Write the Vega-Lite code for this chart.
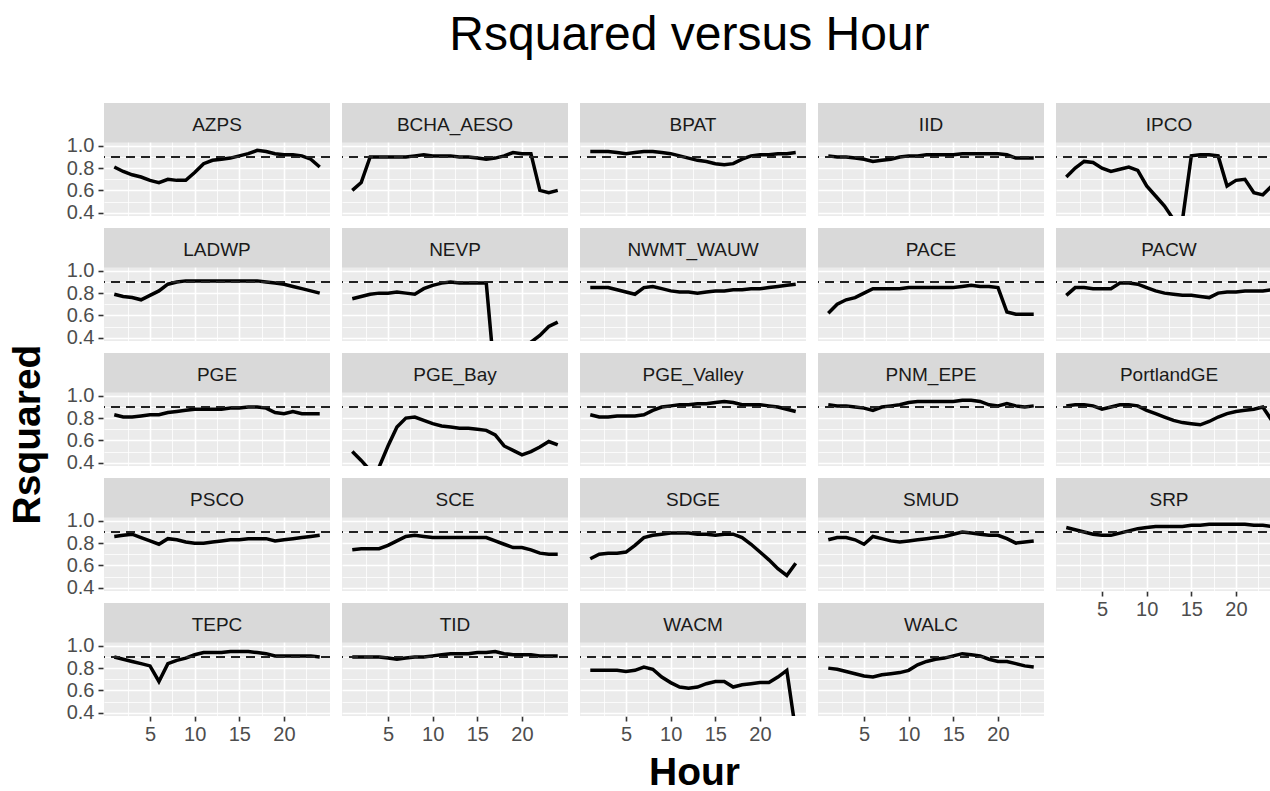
{
"$schema": "https://vega.github.io/schema/vega-lite/v6.json",
"background": "white",
"padding": {"left": 8, "top": 12, "right": 0, "bottom": 0},
"title": {"text": "Rsquared versus Hour", "fontSize": 48, "font": "Liberation Sans", "fontWeight": "normal", "color": "#000000", "anchor": "middle", "offset": 43, "dx": 44},
"config": {"font": "Liberation Sans", "view": {"stroke": null}},
"data": {"values": [
{"site":"AZPS","hour":1,"r2":0.81},{"site":"AZPS","hour":2,"r2":0.77},{"site":"AZPS","hour":3,"r2":0.74},{"site":"AZPS","hour":4,"r2":0.72},{"site":"AZPS","hour":5,"r2":0.69},{"site":"AZPS","hour":6,"r2":0.67},{"site":"AZPS","hour":7,"r2":0.70},{"site":"AZPS","hour":8,"r2":0.69},{"site":"AZPS","hour":9,"r2":0.69},{"site":"AZPS","hour":10,"r2":0.76},{"site":"AZPS","hour":11,"r2":0.84},{"site":"AZPS","hour":12,"r2":0.87},{"site":"AZPS","hour":13,"r2":0.88},{"site":"AZPS","hour":14,"r2":0.89},{"site":"AZPS","hour":15,"r2":0.91},{"site":"AZPS","hour":16,"r2":0.93},{"site":"AZPS","hour":17,"r2":0.96},{"site":"AZPS","hour":18,"r2":0.95},{"site":"AZPS","hour":19,"r2":0.93},{"site":"AZPS","hour":20,"r2":0.92},{"site":"AZPS","hour":21,"r2":0.92},{"site":"AZPS","hour":22,"r2":0.91},{"site":"AZPS","hour":23,"r2":0.88},{"site":"AZPS","hour":24,"r2":0.81},
{"site":"BCHA_AESO","hour":1,"r2":0.60},{"site":"BCHA_AESO","hour":2,"r2":0.67},{"site":"BCHA_AESO","hour":3,"r2":0.90},{"site":"BCHA_AESO","hour":4,"r2":0.90},{"site":"BCHA_AESO","hour":5,"r2":0.90},{"site":"BCHA_AESO","hour":6,"r2":0.90},{"site":"BCHA_AESO","hour":7,"r2":0.90},{"site":"BCHA_AESO","hour":8,"r2":0.91},{"site":"BCHA_AESO","hour":9,"r2":0.92},{"site":"BCHA_AESO","hour":10,"r2":0.91},{"site":"BCHA_AESO","hour":11,"r2":0.91},{"site":"BCHA_AESO","hour":12,"r2":0.91},{"site":"BCHA_AESO","hour":13,"r2":0.90},{"site":"BCHA_AESO","hour":14,"r2":0.90},{"site":"BCHA_AESO","hour":15,"r2":0.89},{"site":"BCHA_AESO","hour":16,"r2":0.88},{"site":"BCHA_AESO","hour":17,"r2":0.89},{"site":"BCHA_AESO","hour":18,"r2":0.91},{"site":"BCHA_AESO","hour":19,"r2":0.94},{"site":"BCHA_AESO","hour":20,"r2":0.93},{"site":"BCHA_AESO","hour":21,"r2":0.93},{"site":"BCHA_AESO","hour":22,"r2":0.60},{"site":"BCHA_AESO","hour":23,"r2":0.58},{"site":"BCHA_AESO","hour":24,"r2":0.60},
{"site":"BPAT","hour":1,"r2":0.95},{"site":"BPAT","hour":2,"r2":0.95},{"site":"BPAT","hour":3,"r2":0.95},{"site":"BPAT","hour":4,"r2":0.94},{"site":"BPAT","hour":5,"r2":0.93},{"site":"BPAT","hour":6,"r2":0.94},{"site":"BPAT","hour":7,"r2":0.95},{"site":"BPAT","hour":8,"r2":0.95},{"site":"BPAT","hour":9,"r2":0.94},{"site":"BPAT","hour":10,"r2":0.93},{"site":"BPAT","hour":11,"r2":0.91},{"site":"BPAT","hour":12,"r2":0.89},{"site":"BPAT","hour":13,"r2":0.87},{"site":"BPAT","hour":14,"r2":0.86},{"site":"BPAT","hour":15,"r2":0.84},{"site":"BPAT","hour":16,"r2":0.83},{"site":"BPAT","hour":17,"r2":0.84},{"site":"BPAT","hour":18,"r2":0.88},{"site":"BPAT","hour":19,"r2":0.91},{"site":"BPAT","hour":20,"r2":0.92},{"site":"BPAT","hour":21,"r2":0.92},{"site":"BPAT","hour":22,"r2":0.93},{"site":"BPAT","hour":23,"r2":0.93},{"site":"BPAT","hour":24,"r2":0.94},
{"site":"IID","hour":1,"r2":0.91},{"site":"IID","hour":2,"r2":0.90},{"site":"IID","hour":3,"r2":0.90},{"site":"IID","hour":4,"r2":0.89},{"site":"IID","hour":5,"r2":0.88},{"site":"IID","hour":6,"r2":0.86},{"site":"IID","hour":7,"r2":0.87},{"site":"IID","hour":8,"r2":0.88},{"site":"IID","hour":9,"r2":0.90},{"site":"IID","hour":10,"r2":0.91},{"site":"IID","hour":11,"r2":0.91},{"site":"IID","hour":12,"r2":0.92},{"site":"IID","hour":13,"r2":0.92},{"site":"IID","hour":14,"r2":0.92},{"site":"IID","hour":15,"r2":0.92},{"site":"IID","hour":16,"r2":0.93},{"site":"IID","hour":17,"r2":0.93},{"site":"IID","hour":18,"r2":0.93},{"site":"IID","hour":19,"r2":0.93},{"site":"IID","hour":20,"r2":0.93},{"site":"IID","hour":21,"r2":0.92},{"site":"IID","hour":22,"r2":0.89},{"site":"IID","hour":23,"r2":0.89},{"site":"IID","hour":24,"r2":0.89},
{"site":"IPCO","hour":1,"r2":0.72},{"site":"IPCO","hour":2,"r2":0.80},{"site":"IPCO","hour":3,"r2":0.86},{"site":"IPCO","hour":4,"r2":0.85},{"site":"IPCO","hour":5,"r2":0.80},{"site":"IPCO","hour":6,"r2":0.77},{"site":"IPCO","hour":7,"r2":0.79},{"site":"IPCO","hour":8,"r2":0.81},{"site":"IPCO","hour":9,"r2":0.78},{"site":"IPCO","hour":10,"r2":0.64},{"site":"IPCO","hour":11,"r2":0.55},{"site":"IPCO","hour":12,"r2":0.46},{"site":"IPCO","hour":13,"r2":0.34},{"site":"IPCO","hour":14,"r2":0.33},{"site":"IPCO","hour":15,"r2":0.91},{"site":"IPCO","hour":16,"r2":0.92},{"site":"IPCO","hour":17,"r2":0.92},{"site":"IPCO","hour":18,"r2":0.91},{"site":"IPCO","hour":19,"r2":0.64},{"site":"IPCO","hour":20,"r2":0.69},{"site":"IPCO","hour":21,"r2":0.70},{"site":"IPCO","hour":22,"r2":0.58},{"site":"IPCO","hour":23,"r2":0.56},{"site":"IPCO","hour":24,"r2":0.64},
{"site":"LADWP","hour":1,"r2":0.79},{"site":"LADWP","hour":2,"r2":0.77},{"site":"LADWP","hour":3,"r2":0.76},{"site":"LADWP","hour":4,"r2":0.74},{"site":"LADWP","hour":5,"r2":0.78},{"site":"LADWP","hour":6,"r2":0.82},{"site":"LADWP","hour":7,"r2":0.88},{"site":"LADWP","hour":8,"r2":0.90},{"site":"LADWP","hour":9,"r2":0.91},{"site":"LADWP","hour":10,"r2":0.91},{"site":"LADWP","hour":11,"r2":0.91},{"site":"LADWP","hour":12,"r2":0.91},{"site":"LADWP","hour":13,"r2":0.91},{"site":"LADWP","hour":14,"r2":0.91},{"site":"LADWP","hour":15,"r2":0.91},{"site":"LADWP","hour":16,"r2":0.91},{"site":"LADWP","hour":17,"r2":0.91},{"site":"LADWP","hour":18,"r2":0.90},{"site":"LADWP","hour":19,"r2":0.89},{"site":"LADWP","hour":20,"r2":0.88},{"site":"LADWP","hour":21,"r2":0.86},{"site":"LADWP","hour":22,"r2":0.84},{"site":"LADWP","hour":23,"r2":0.82},{"site":"LADWP","hour":24,"r2":0.80},
{"site":"NEVP","hour":1,"r2":0.75},{"site":"NEVP","hour":2,"r2":0.77},{"site":"NEVP","hour":3,"r2":0.79},{"site":"NEVP","hour":4,"r2":0.80},{"site":"NEVP","hour":5,"r2":0.80},{"site":"NEVP","hour":6,"r2":0.81},{"site":"NEVP","hour":7,"r2":0.80},{"site":"NEVP","hour":8,"r2":0.79},{"site":"NEVP","hour":9,"r2":0.84},{"site":"NEVP","hour":10,"r2":0.87},{"site":"NEVP","hour":11,"r2":0.89},{"site":"NEVP","hour":12,"r2":0.90},{"site":"NEVP","hour":13,"r2":0.89},{"site":"NEVP","hour":14,"r2":0.89},{"site":"NEVP","hour":15,"r2":0.89},{"site":"NEVP","hour":16,"r2":0.89},{"site":"NEVP","hour":17,"r2":0.00},{"site":"NEVP","hour":18,"r2":-0.20},{"site":"NEVP","hour":19,"r2":0.00},{"site":"NEVP","hour":20,"r2":0.20},{"site":"NEVP","hour":21,"r2":0.36},{"site":"NEVP","hour":22,"r2":0.42},{"site":"NEVP","hour":23,"r2":0.50},{"site":"NEVP","hour":24,"r2":0.54},
{"site":"NWMT_WAUW","hour":1,"r2":0.85},{"site":"NWMT_WAUW","hour":2,"r2":0.85},{"site":"NWMT_WAUW","hour":3,"r2":0.85},{"site":"NWMT_WAUW","hour":4,"r2":0.83},{"site":"NWMT_WAUW","hour":5,"r2":0.81},{"site":"NWMT_WAUW","hour":6,"r2":0.79},{"site":"NWMT_WAUW","hour":7,"r2":0.85},{"site":"NWMT_WAUW","hour":8,"r2":0.86},{"site":"NWMT_WAUW","hour":9,"r2":0.84},{"site":"NWMT_WAUW","hour":10,"r2":0.82},{"site":"NWMT_WAUW","hour":11,"r2":0.81},{"site":"NWMT_WAUW","hour":12,"r2":0.81},{"site":"NWMT_WAUW","hour":13,"r2":0.80},{"site":"NWMT_WAUW","hour":14,"r2":0.81},{"site":"NWMT_WAUW","hour":15,"r2":0.82},{"site":"NWMT_WAUW","hour":16,"r2":0.82},{"site":"NWMT_WAUW","hour":17,"r2":0.83},{"site":"NWMT_WAUW","hour":18,"r2":0.83},{"site":"NWMT_WAUW","hour":19,"r2":0.84},{"site":"NWMT_WAUW","hour":20,"r2":0.84},{"site":"NWMT_WAUW","hour":21,"r2":0.85},{"site":"NWMT_WAUW","hour":22,"r2":0.86},{"site":"NWMT_WAUW","hour":23,"r2":0.87},{"site":"NWMT_WAUW","hour":24,"r2":0.88},
{"site":"PACE","hour":1,"r2":0.62},{"site":"PACE","hour":2,"r2":0.70},{"site":"PACE","hour":3,"r2":0.74},{"site":"PACE","hour":4,"r2":0.76},{"site":"PACE","hour":5,"r2":0.80},{"site":"PACE","hour":6,"r2":0.84},{"site":"PACE","hour":7,"r2":0.84},{"site":"PACE","hour":8,"r2":0.84},{"site":"PACE","hour":9,"r2":0.84},{"site":"PACE","hour":10,"r2":0.85},{"site":"PACE","hour":11,"r2":0.85},{"site":"PACE","hour":12,"r2":0.85},{"site":"PACE","hour":13,"r2":0.85},{"site":"PACE","hour":14,"r2":0.85},{"site":"PACE","hour":15,"r2":0.85},{"site":"PACE","hour":16,"r2":0.86},{"site":"PACE","hour":17,"r2":0.87},{"site":"PACE","hour":18,"r2":0.86},{"site":"PACE","hour":19,"r2":0.86},{"site":"PACE","hour":20,"r2":0.85},{"site":"PACE","hour":21,"r2":0.63},{"site":"PACE","hour":22,"r2":0.61},{"site":"PACE","hour":23,"r2":0.61},{"site":"PACE","hour":24,"r2":0.61},
{"site":"PACW","hour":1,"r2":0.78},{"site":"PACW","hour":2,"r2":0.85},{"site":"PACW","hour":3,"r2":0.85},{"site":"PACW","hour":4,"r2":0.84},{"site":"PACW","hour":5,"r2":0.84},{"site":"PACW","hour":6,"r2":0.84},{"site":"PACW","hour":7,"r2":0.89},{"site":"PACW","hour":8,"r2":0.89},{"site":"PACW","hour":9,"r2":0.88},{"site":"PACW","hour":10,"r2":0.85},{"site":"PACW","hour":11,"r2":0.82},{"site":"PACW","hour":12,"r2":0.80},{"site":"PACW","hour":13,"r2":0.79},{"site":"PACW","hour":14,"r2":0.78},{"site":"PACW","hour":15,"r2":0.78},{"site":"PACW","hour":16,"r2":0.77},{"site":"PACW","hour":17,"r2":0.76},{"site":"PACW","hour":18,"r2":0.80},{"site":"PACW","hour":19,"r2":0.81},{"site":"PACW","hour":20,"r2":0.81},{"site":"PACW","hour":21,"r2":0.82},{"site":"PACW","hour":22,"r2":0.82},{"site":"PACW","hour":23,"r2":0.82},{"site":"PACW","hour":24,"r2":0.83},
{"site":"PGE","hour":1,"r2":0.83},{"site":"PGE","hour":2,"r2":0.81},{"site":"PGE","hour":3,"r2":0.81},{"site":"PGE","hour":4,"r2":0.82},{"site":"PGE","hour":5,"r2":0.83},{"site":"PGE","hour":6,"r2":0.83},{"site":"PGE","hour":7,"r2":0.85},{"site":"PGE","hour":8,"r2":0.86},{"site":"PGE","hour":9,"r2":0.87},{"site":"PGE","hour":10,"r2":0.88},{"site":"PGE","hour":11,"r2":0.88},{"site":"PGE","hour":12,"r2":0.88},{"site":"PGE","hour":13,"r2":0.88},{"site":"PGE","hour":14,"r2":0.89},{"site":"PGE","hour":15,"r2":0.89},{"site":"PGE","hour":16,"r2":0.90},{"site":"PGE","hour":17,"r2":0.90},{"site":"PGE","hour":18,"r2":0.89},{"site":"PGE","hour":19,"r2":0.85},{"site":"PGE","hour":20,"r2":0.84},{"site":"PGE","hour":21,"r2":0.86},{"site":"PGE","hour":22,"r2":0.84},{"site":"PGE","hour":23,"r2":0.84},{"site":"PGE","hour":24,"r2":0.84},
{"site":"PGE_Bay","hour":1,"r2":0.50},{"site":"PGE_Bay","hour":2,"r2":0.42},{"site":"PGE_Bay","hour":3,"r2":0.33},{"site":"PGE_Bay","hour":4,"r2":0.36},{"site":"PGE_Bay","hour":5,"r2":0.55},{"site":"PGE_Bay","hour":6,"r2":0.72},{"site":"PGE_Bay","hour":7,"r2":0.80},{"site":"PGE_Bay","hour":8,"r2":0.81},{"site":"PGE_Bay","hour":9,"r2":0.78},{"site":"PGE_Bay","hour":10,"r2":0.75},{"site":"PGE_Bay","hour":11,"r2":0.73},{"site":"PGE_Bay","hour":12,"r2":0.72},{"site":"PGE_Bay","hour":13,"r2":0.71},{"site":"PGE_Bay","hour":14,"r2":0.71},{"site":"PGE_Bay","hour":15,"r2":0.70},{"site":"PGE_Bay","hour":16,"r2":0.69},{"site":"PGE_Bay","hour":17,"r2":0.65},{"site":"PGE_Bay","hour":18,"r2":0.55},{"site":"PGE_Bay","hour":19,"r2":0.51},{"site":"PGE_Bay","hour":20,"r2":0.47},{"site":"PGE_Bay","hour":21,"r2":0.50},{"site":"PGE_Bay","hour":22,"r2":0.54},{"site":"PGE_Bay","hour":23,"r2":0.59},{"site":"PGE_Bay","hour":24,"r2":0.56},
{"site":"PGE_Valley","hour":1,"r2":0.83},{"site":"PGE_Valley","hour":2,"r2":0.81},{"site":"PGE_Valley","hour":3,"r2":0.81},{"site":"PGE_Valley","hour":4,"r2":0.82},{"site":"PGE_Valley","hour":5,"r2":0.82},{"site":"PGE_Valley","hour":6,"r2":0.82},{"site":"PGE_Valley","hour":7,"r2":0.83},{"site":"PGE_Valley","hour":8,"r2":0.87},{"site":"PGE_Valley","hour":9,"r2":0.90},{"site":"PGE_Valley","hour":10,"r2":0.91},{"site":"PGE_Valley","hour":11,"r2":0.92},{"site":"PGE_Valley","hour":12,"r2":0.92},{"site":"PGE_Valley","hour":13,"r2":0.93},{"site":"PGE_Valley","hour":14,"r2":0.93},{"site":"PGE_Valley","hour":15,"r2":0.94},{"site":"PGE_Valley","hour":16,"r2":0.95},{"site":"PGE_Valley","hour":17,"r2":0.94},{"site":"PGE_Valley","hour":18,"r2":0.92},{"site":"PGE_Valley","hour":19,"r2":0.92},{"site":"PGE_Valley","hour":20,"r2":0.92},{"site":"PGE_Valley","hour":21,"r2":0.91},{"site":"PGE_Valley","hour":22,"r2":0.90},{"site":"PGE_Valley","hour":23,"r2":0.88},{"site":"PGE_Valley","hour":24,"r2":0.86},
{"site":"PNM_EPE","hour":1,"r2":0.92},{"site":"PNM_EPE","hour":2,"r2":0.91},{"site":"PNM_EPE","hour":3,"r2":0.91},{"site":"PNM_EPE","hour":4,"r2":0.90},{"site":"PNM_EPE","hour":5,"r2":0.89},{"site":"PNM_EPE","hour":6,"r2":0.87},{"site":"PNM_EPE","hour":7,"r2":0.90},{"site":"PNM_EPE","hour":8,"r2":0.91},{"site":"PNM_EPE","hour":9,"r2":0.92},{"site":"PNM_EPE","hour":10,"r2":0.94},{"site":"PNM_EPE","hour":11,"r2":0.95},{"site":"PNM_EPE","hour":12,"r2":0.95},{"site":"PNM_EPE","hour":13,"r2":0.95},{"site":"PNM_EPE","hour":14,"r2":0.95},{"site":"PNM_EPE","hour":15,"r2":0.95},{"site":"PNM_EPE","hour":16,"r2":0.96},{"site":"PNM_EPE","hour":17,"r2":0.96},{"site":"PNM_EPE","hour":18,"r2":0.95},{"site":"PNM_EPE","hour":19,"r2":0.92},{"site":"PNM_EPE","hour":20,"r2":0.91},{"site":"PNM_EPE","hour":21,"r2":0.93},{"site":"PNM_EPE","hour":22,"r2":0.91},{"site":"PNM_EPE","hour":23,"r2":0.90},{"site":"PNM_EPE","hour":24,"r2":0.91},
{"site":"PortlandGE","hour":1,"r2":0.91},{"site":"PortlandGE","hour":2,"r2":0.92},{"site":"PortlandGE","hour":3,"r2":0.92},{"site":"PortlandGE","hour":4,"r2":0.91},{"site":"PortlandGE","hour":5,"r2":0.88},{"site":"PortlandGE","hour":6,"r2":0.90},{"site":"PortlandGE","hour":7,"r2":0.92},{"site":"PortlandGE","hour":8,"r2":0.92},{"site":"PortlandGE","hour":9,"r2":0.91},{"site":"PortlandGE","hour":10,"r2":0.87},{"site":"PortlandGE","hour":11,"r2":0.84},{"site":"PortlandGE","hour":12,"r2":0.81},{"site":"PortlandGE","hour":13,"r2":0.78},{"site":"PortlandGE","hour":14,"r2":0.76},{"site":"PortlandGE","hour":15,"r2":0.75},{"site":"PortlandGE","hour":16,"r2":0.74},{"site":"PortlandGE","hour":17,"r2":0.77},{"site":"PortlandGE","hour":18,"r2":0.81},{"site":"PortlandGE","hour":19,"r2":0.84},{"site":"PortlandGE","hour":20,"r2":0.86},{"site":"PortlandGE","hour":21,"r2":0.87},{"site":"PortlandGE","hour":22,"r2":0.88},{"site":"PortlandGE","hour":23,"r2":0.90},{"site":"PortlandGE","hour":24,"r2":0.78},
{"site":"PSCO","hour":1,"r2":0.86},{"site":"PSCO","hour":2,"r2":0.87},{"site":"PSCO","hour":3,"r2":0.88},{"site":"PSCO","hour":4,"r2":0.85},{"site":"PSCO","hour":5,"r2":0.82},{"site":"PSCO","hour":6,"r2":0.79},{"site":"PSCO","hour":7,"r2":0.84},{"site":"PSCO","hour":8,"r2":0.83},{"site":"PSCO","hour":9,"r2":0.81},{"site":"PSCO","hour":10,"r2":0.80},{"site":"PSCO","hour":11,"r2":0.80},{"site":"PSCO","hour":12,"r2":0.81},{"site":"PSCO","hour":13,"r2":0.82},{"site":"PSCO","hour":14,"r2":0.83},{"site":"PSCO","hour":15,"r2":0.83},{"site":"PSCO","hour":16,"r2":0.84},{"site":"PSCO","hour":17,"r2":0.84},{"site":"PSCO","hour":18,"r2":0.84},{"site":"PSCO","hour":19,"r2":0.82},{"site":"PSCO","hour":20,"r2":0.83},{"site":"PSCO","hour":21,"r2":0.84},{"site":"PSCO","hour":22,"r2":0.85},{"site":"PSCO","hour":23,"r2":0.86},{"site":"PSCO","hour":24,"r2":0.87},
{"site":"SCE","hour":1,"r2":0.74},{"site":"SCE","hour":2,"r2":0.75},{"site":"SCE","hour":3,"r2":0.75},{"site":"SCE","hour":4,"r2":0.75},{"site":"SCE","hour":5,"r2":0.78},{"site":"SCE","hour":6,"r2":0.82},{"site":"SCE","hour":7,"r2":0.86},{"site":"SCE","hour":8,"r2":0.87},{"site":"SCE","hour":9,"r2":0.86},{"site":"SCE","hour":10,"r2":0.85},{"site":"SCE","hour":11,"r2":0.85},{"site":"SCE","hour":12,"r2":0.85},{"site":"SCE","hour":13,"r2":0.85},{"site":"SCE","hour":14,"r2":0.85},{"site":"SCE","hour":15,"r2":0.85},{"site":"SCE","hour":16,"r2":0.85},{"site":"SCE","hour":17,"r2":0.82},{"site":"SCE","hour":18,"r2":0.79},{"site":"SCE","hour":19,"r2":0.76},{"site":"SCE","hour":20,"r2":0.76},{"site":"SCE","hour":21,"r2":0.74},{"site":"SCE","hour":22,"r2":0.71},{"site":"SCE","hour":23,"r2":0.70},{"site":"SCE","hour":24,"r2":0.70},
{"site":"SDGE","hour":1,"r2":0.66},{"site":"SDGE","hour":2,"r2":0.70},{"site":"SDGE","hour":3,"r2":0.71},{"site":"SDGE","hour":4,"r2":0.71},{"site":"SDGE","hour":5,"r2":0.72},{"site":"SDGE","hour":6,"r2":0.78},{"site":"SDGE","hour":7,"r2":0.85},{"site":"SDGE","hour":8,"r2":0.87},{"site":"SDGE","hour":9,"r2":0.88},{"site":"SDGE","hour":10,"r2":0.89},{"site":"SDGE","hour":11,"r2":0.89},{"site":"SDGE","hour":12,"r2":0.89},{"site":"SDGE","hour":13,"r2":0.88},{"site":"SDGE","hour":14,"r2":0.88},{"site":"SDGE","hour":15,"r2":0.87},{"site":"SDGE","hour":16,"r2":0.88},{"site":"SDGE","hour":17,"r2":0.88},{"site":"SDGE","hour":18,"r2":0.85},{"site":"SDGE","hour":19,"r2":0.79},{"site":"SDGE","hour":20,"r2":0.72},{"site":"SDGE","hour":21,"r2":0.65},{"site":"SDGE","hour":22,"r2":0.57},{"site":"SDGE","hour":23,"r2":0.51},{"site":"SDGE","hour":24,"r2":0.62},
{"site":"SMUD","hour":1,"r2":0.83},{"site":"SMUD","hour":2,"r2":0.85},{"site":"SMUD","hour":3,"r2":0.85},{"site":"SMUD","hour":4,"r2":0.83},{"site":"SMUD","hour":5,"r2":0.79},{"site":"SMUD","hour":6,"r2":0.86},{"site":"SMUD","hour":7,"r2":0.84},{"site":"SMUD","hour":8,"r2":0.82},{"site":"SMUD","hour":9,"r2":0.81},{"site":"SMUD","hour":10,"r2":0.82},{"site":"SMUD","hour":11,"r2":0.83},{"site":"SMUD","hour":12,"r2":0.84},{"site":"SMUD","hour":13,"r2":0.85},{"site":"SMUD","hour":14,"r2":0.86},{"site":"SMUD","hour":15,"r2":0.88},{"site":"SMUD","hour":16,"r2":0.90},{"site":"SMUD","hour":17,"r2":0.89},{"site":"SMUD","hour":18,"r2":0.88},{"site":"SMUD","hour":19,"r2":0.87},{"site":"SMUD","hour":20,"r2":0.87},{"site":"SMUD","hour":21,"r2":0.84},{"site":"SMUD","hour":22,"r2":0.80},{"site":"SMUD","hour":23,"r2":0.81},{"site":"SMUD","hour":24,"r2":0.82},
{"site":"SRP","hour":1,"r2":0.94},{"site":"SRP","hour":2,"r2":0.92},{"site":"SRP","hour":3,"r2":0.90},{"site":"SRP","hour":4,"r2":0.88},{"site":"SRP","hour":5,"r2":0.87},{"site":"SRP","hour":6,"r2":0.87},{"site":"SRP","hour":7,"r2":0.89},{"site":"SRP","hour":8,"r2":0.91},{"site":"SRP","hour":9,"r2":0.93},{"site":"SRP","hour":10,"r2":0.94},{"site":"SRP","hour":11,"r2":0.95},{"site":"SRP","hour":12,"r2":0.95},{"site":"SRP","hour":13,"r2":0.95},{"site":"SRP","hour":14,"r2":0.95},{"site":"SRP","hour":15,"r2":0.96},{"site":"SRP","hour":16,"r2":0.96},{"site":"SRP","hour":17,"r2":0.97},{"site":"SRP","hour":18,"r2":0.97},{"site":"SRP","hour":19,"r2":0.97},{"site":"SRP","hour":20,"r2":0.97},{"site":"SRP","hour":21,"r2":0.97},{"site":"SRP","hour":22,"r2":0.96},{"site":"SRP","hour":23,"r2":0.96},{"site":"SRP","hour":24,"r2":0.95},
{"site":"TEPC","hour":1,"r2":0.90},{"site":"TEPC","hour":2,"r2":0.88},{"site":"TEPC","hour":3,"r2":0.86},{"site":"TEPC","hour":4,"r2":0.84},{"site":"TEPC","hour":5,"r2":0.82},{"site":"TEPC","hour":6,"r2":0.68},{"site":"TEPC","hour":7,"r2":0.84},{"site":"TEPC","hour":8,"r2":0.87},{"site":"TEPC","hour":9,"r2":0.89},{"site":"TEPC","hour":10,"r2":0.92},{"site":"TEPC","hour":11,"r2":0.94},{"site":"TEPC","hour":12,"r2":0.94},{"site":"TEPC","hour":13,"r2":0.94},{"site":"TEPC","hour":14,"r2":0.95},{"site":"TEPC","hour":15,"r2":0.95},{"site":"TEPC","hour":16,"r2":0.95},{"site":"TEPC","hour":17,"r2":0.94},{"site":"TEPC","hour":18,"r2":0.93},{"site":"TEPC","hour":19,"r2":0.91},{"site":"TEPC","hour":20,"r2":0.91},{"site":"TEPC","hour":21,"r2":0.91},{"site":"TEPC","hour":22,"r2":0.91},{"site":"TEPC","hour":23,"r2":0.91},{"site":"TEPC","hour":24,"r2":0.90},
{"site":"TID","hour":1,"r2":0.90},{"site":"TID","hour":2,"r2":0.90},{"site":"TID","hour":3,"r2":0.90},{"site":"TID","hour":4,"r2":0.90},{"site":"TID","hour":5,"r2":0.89},{"site":"TID","hour":6,"r2":0.88},{"site":"TID","hour":7,"r2":0.89},{"site":"TID","hour":8,"r2":0.90},{"site":"TID","hour":9,"r2":0.90},{"site":"TID","hour":10,"r2":0.91},{"site":"TID","hour":11,"r2":0.92},{"site":"TID","hour":12,"r2":0.93},{"site":"TID","hour":13,"r2":0.93},{"site":"TID","hour":14,"r2":0.93},{"site":"TID","hour":15,"r2":0.94},{"site":"TID","hour":16,"r2":0.94},{"site":"TID","hour":17,"r2":0.95},{"site":"TID","hour":18,"r2":0.93},{"site":"TID","hour":19,"r2":0.92},{"site":"TID","hour":20,"r2":0.92},{"site":"TID","hour":21,"r2":0.92},{"site":"TID","hour":22,"r2":0.91},{"site":"TID","hour":23,"r2":0.91},{"site":"TID","hour":24,"r2":0.91},
{"site":"WACM","hour":1,"r2":0.78},{"site":"WACM","hour":2,"r2":0.78},{"site":"WACM","hour":3,"r2":0.78},{"site":"WACM","hour":4,"r2":0.78},{"site":"WACM","hour":5,"r2":0.77},{"site":"WACM","hour":6,"r2":0.78},{"site":"WACM","hour":7,"r2":0.81},{"site":"WACM","hour":8,"r2":0.79},{"site":"WACM","hour":9,"r2":0.72},{"site":"WACM","hour":10,"r2":0.67},{"site":"WACM","hour":11,"r2":0.63},{"site":"WACM","hour":12,"r2":0.62},{"site":"WACM","hour":13,"r2":0.63},{"site":"WACM","hour":14,"r2":0.66},{"site":"WACM","hour":15,"r2":0.68},{"site":"WACM","hour":16,"r2":0.68},{"site":"WACM","hour":17,"r2":0.63},{"site":"WACM","hour":18,"r2":0.65},{"site":"WACM","hour":19,"r2":0.66},{"site":"WACM","hour":20,"r2":0.67},{"site":"WACM","hour":21,"r2":0.67},{"site":"WACM","hour":22,"r2":0.72},{"site":"WACM","hour":23,"r2":0.78},{"site":"WACM","hour":24,"r2":0.23},
{"site":"WALC","hour":1,"r2":0.80},{"site":"WALC","hour":2,"r2":0.79},{"site":"WALC","hour":3,"r2":0.77},{"site":"WALC","hour":4,"r2":0.75},{"site":"WALC","hour":5,"r2":0.73},{"site":"WALC","hour":6,"r2":0.72},{"site":"WALC","hour":7,"r2":0.74},{"site":"WALC","hour":8,"r2":0.75},{"site":"WALC","hour":9,"r2":0.76},{"site":"WALC","hour":10,"r2":0.78},{"site":"WALC","hour":11,"r2":0.83},{"site":"WALC","hour":12,"r2":0.86},{"site":"WALC","hour":13,"r2":0.88},{"site":"WALC","hour":14,"r2":0.89},{"site":"WALC","hour":15,"r2":0.91},{"site":"WALC","hour":16,"r2":0.93},{"site":"WALC","hour":17,"r2":0.92},{"site":"WALC","hour":18,"r2":0.91},{"site":"WALC","hour":19,"r2":0.88},{"site":"WALC","hour":20,"r2":0.86},{"site":"WALC","hour":21,"r2":0.86},{"site":"WALC","hour":22,"r2":0.84},{"site":"WALC","hour":23,"r2":0.82},{"site":"WALC","hour":24,"r2":0.81}
]},
"spacing": 18,
"hconcat": [
{
"data": {"values": [{"k": 0}]},
"width": 1, "height": 662,
"view": {"fill": null, "stroke": null},
"mark": {"type": "rule", "opacity": 0},
"encoding": {"y": {"datum": 0, "type": "quantitative", "axis": {"title": "Rsquared", "titleFontSize": 39, "titleFontWeight": "bold", "titleColor": "#000000", "titleFont": "Liberation Sans", "labels": false, "ticks": false, "domain": false, "grid": false, "titlePadding": 0}}}
},
{
"spacing": 0,
"vconcat": [
{
"spacing": 10,
"hconcat": [
{
"transform": [{"filter": {"field": "site", "oneOf": ["AZPS","BCHA_AESO","BPAT","IID","LADWP","NEVP","NWMT_WAUW","PACE","PGE","PGE_Bay","PGE_Valley","PNM_EPE","PSCO","SCE","SDGE","SMUD","TEPC","TID","WACM","WALC"]}}],
"columns": 4,
"spacing": {"row": 12, "column": 10},
"facet": {"field": "site", "type": "nominal", "sort": ["AZPS","BCHA_AESO","BPAT","IID","LADWP","NEVP","NWMT_WAUW","PACE","PGE","PGE_Bay","PGE_Valley","PNM_EPE","PSCO","SCE","SDGE","SMUD","TEPC","TID","WACM","WALC"], "header": {"title": null, "labelFontSize": 19, "labelColor": "#1A1A1A", "labelFont": "Liberation Sans", "labelPadding": -41, "labelBaseline": "middle"}},
"spec": {
"width": 226, "height": 113,
"view": {"fill": "#EBEBEB", "stroke": null},
"resolve": {"axis": {"x": "independent", "y": "independent"}},
"layer": [
{"mark": {"type": "line", "color": "#000000", "strokeWidth": 3.5, "clip": true},
 "encoding": {
  "x": {"field": "hour", "type": "quantitative", "scale": {"domain": [-0.15, 25.15], "nice": false, "zero": false},
   "axis": {"orient": "bottom", "title": null, "values": [5,10,15,20], "labelOverlap": false, "labelFlush": false, "labelFontSize": 20, "labelColor": "#4D4D4D", "labelPadding": 3, "domain": false, "tickSize": 5, "tickWidth": 1.6, "tickColor": "#333333", "gridColor": "#FFFFFF", "gridWidth": 1.6}},
  "y": {"field": "r2", "type": "quantitative", "scale": {"domain": [0.37, 1.385], "nice": false, "zero": false},
   "axis": {"orient": "left", "title": null, "values": [0.4,0.6,0.8,1.0], "format": ".1f", "labelOverlap": false, "labelFontSize": 20, "labelColor": "#4D4D4D", "labelPadding": 4, "domain": false, "tickSize": 5, "tickWidth": 1.6, "tickColor": "#333333", "gridColor": "#FFFFFF", "gridWidth": 1.6}}
 }},
{"transform": [{"filter": "datum.hour == 1"}],
 "mark": {"type": "rule", "strokeDash": [9, 6], "strokeWidth": 1.8, "color": "#222222"},
 "encoding": {"y": {"datum": 0.9, "axis": {"orient": "left", "title": null, "values": [0.5,0.7,0.9], "labels": false, "ticks": false, "domain": false, "grid": true, "gridColor": "#FFFFFF", "gridWidth": 0.8}}}},
{"transform": [{"filter": "datum.hour == 1"}],
 "mark": {"type": "rect", "color": "#D9D9D9"},
 "encoding": {"x": {"datum": -0.15, "axis": {"orient": "bottom", "title": null, "values": [2.5,7.5,12.5,17.5,22.5], "labels": false, "ticks": false, "domain": false, "grid": true, "gridColor": "#FFFFFF", "gridWidth": 0.8}}, "x2": {"datum": 25.15}, "y": {"datum": 1.03, "axis": null}, "y2": {"datum": 1.385}}}
]
}
},
{
"transform": [{"filter": {"field": "site", "oneOf": ["IPCO","PACW","PortlandGE","SRP"]}}],
"columns": 1,
"spacing": {"row": 12, "column": 10},
"facet": {"field": "site", "type": "nominal", "sort": ["IPCO","PACW","PortlandGE","SRP"], "header": {"title": null, "labelFontSize": 19, "labelColor": "#1A1A1A", "labelFont": "Liberation Sans", "labelPadding": -41, "labelBaseline": "middle"}},
"spec": {
"width": 226, "height": 113,
"view": {"fill": "#EBEBEB", "stroke": null},
"resolve": {"axis": {"x": "independent", "y": "independent"}},
"layer": [
{"mark": {"type": "line", "color": "#000000", "strokeWidth": 3.5, "clip": true},
 "encoding": {
  "x": {"field": "hour", "type": "quantitative", "scale": {"domain": [-0.15, 25.15], "nice": false, "zero": false},
   "axis": {"orient": "bottom", "title": null, "values": [5,10,15,20], "labelOverlap": false, "labelFlush": false, "labelFontSize": 20, "labelColor": "#4D4D4D", "labelPadding": 3, "domain": false, "tickSize": 5, "tickWidth": 1.6, "tickColor": "#333333", "gridColor": "#FFFFFF", "gridWidth": 1.6}},
  "y": {"field": "r2", "type": "quantitative", "scale": {"domain": [0.37, 1.385], "nice": false, "zero": false},
   "axis": {"orient": "left", "title": null, "values": [0.4,0.6,0.8,1.0], "labels": false, "ticks": false, "domain": false, "gridColor": "#FFFFFF", "gridWidth": 1.6}}
 }},
{"transform": [{"filter": "datum.hour == 1"}],
 "mark": {"type": "rule", "strokeDash": [9, 6], "strokeWidth": 1.8, "color": "#222222"},
 "encoding": {"y": {"datum": 0.9, "axis": {"orient": "left", "title": null, "values": [0.5,0.7,0.9], "labels": false, "ticks": false, "domain": false, "grid": true, "gridColor": "#FFFFFF", "gridWidth": 0.8}}}},
{"transform": [{"filter": "datum.hour == 1"}],
 "mark": {"type": "rect", "color": "#D9D9D9"},
 "encoding": {"x": {"datum": -0.15, "axis": {"orient": "bottom", "title": null, "values": [2.5,7.5,12.5,17.5,22.5], "labels": false, "ticks": false, "domain": false, "grid": true, "gridColor": "#FFFFFF", "gridWidth": 0.8}}, "x2": {"datum": 25.15}, "y": {"datum": 1.03, "axis": null}, "y2": {"datum": 1.385}}}
]
}
}
]
},
{
"data": {"values": [{"k": 0}]},
"width": 1178, "height": 1,
"view": {"fill": null, "stroke": null},
"mark": {"type": "rule", "opacity": 0},
"encoding": {"x": {"datum": 0, "type": "quantitative", "axis": {"title": "Hour", "titleX": 590, "titleFontSize": 39, "titleFontWeight": "bold", "titleColor": "#000000", "titleFont": "Liberation Sans", "labels": false, "ticks": false, "domain": false, "grid": false, "titlePadding": 8}}}
}
]
}
]
}
